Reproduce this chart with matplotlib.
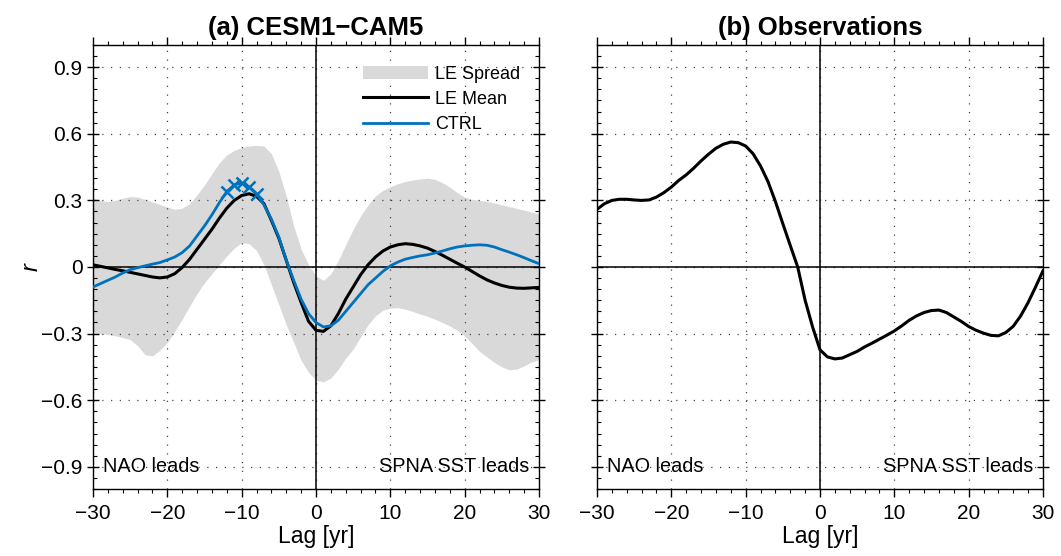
import numpy as np
import matplotlib
matplotlib.use("Agg")
import matplotlib.pyplot as plt
from matplotlib.ticker import MultipleLocator

plt.rcParams['font.family'] = ['Liberation Sans', 'DejaVu Sans']

lags = list(range(-30, 31))

le_mean = [0.01, 0.003, -0.004, -0.011, -0.017, -0.024, -0.031, -0.038, -0.045, -0.049,
           -0.045, -0.03, -0.002, 0.035, 0.08, 0.125, 0.17, 0.22, 0.265, 0.30,
           0.322, 0.33, 0.318, 0.285, 0.21, 0.13, 0.03, -0.07, -0.16, -0.245,
           -0.285, -0.29, -0.265, -0.21, -0.145, -0.09, -0.035, 0.01, 0.045, 0.072,
           0.09, 0.10, 0.105, 0.102, 0.095, 0.085, 0.07, 0.053, 0.035, 0.017,
           0.0, -0.02, -0.04, -0.058, -0.072, -0.083, -0.091, -0.095, -0.096, -0.094,
           -0.092]

ctrl = [-0.09, -0.075, -0.06, -0.045, -0.027, -0.012, -0.003, 0.005, 0.013, 0.02,
        0.032, 0.045, 0.065, 0.095, 0.14, 0.185, 0.235, 0.29, 0.34, 0.37,
        0.378, 0.36, 0.33, 0.28, 0.215, 0.135, 0.03, -0.06, -0.145, -0.21,
        -0.25, -0.27, -0.265, -0.24, -0.20, -0.16, -0.12, -0.08, -0.05, -0.02,
        0.005, 0.022, 0.035, 0.043, 0.05, 0.055, 0.063, 0.072, 0.082, 0.09,
        0.095, 0.098, 0.10, 0.098, 0.09, 0.078, 0.067, 0.055, 0.042, 0.028,
        0.015]

ctrl_sig_lags = [-12, -11, -10, -9, -8]

spread_upper = [0.31, 0.30, 0.294, 0.30, 0.31, 0.317, 0.315, 0.305, 0.293, 0.282,
                0.27, 0.26, 0.265, 0.286, 0.325, 0.37, 0.42, 0.47, 0.505, 0.525,
                0.538, 0.545, 0.548, 0.545, 0.51, 0.43, 0.32, 0.185, 0.08, 0.01,
                -0.04, -0.06, -0.03, 0.03, 0.10, 0.17, 0.23, 0.28, 0.32, 0.345,
                0.362, 0.375, 0.385, 0.392, 0.397, 0.40, 0.395, 0.38, 0.36, 0.335,
                0.315, 0.305, 0.30, 0.295, 0.288, 0.28, 0.272, 0.264, 0.256, 0.247,
                0.24]

spread_lower = [-0.297, -0.30, -0.304, -0.31, -0.318, -0.327, -0.355, -0.395, -0.40, -0.375,
                -0.34, -0.29, -0.235, -0.176, -0.12, -0.07, -0.03, 0.01, 0.05, 0.085,
                0.11, 0.105, 0.074, 0.01, -0.08, -0.17, -0.26, -0.34, -0.42, -0.475,
                -0.51, -0.517, -0.50, -0.46, -0.41, -0.37, -0.315, -0.26, -0.22, -0.195,
                -0.185, -0.183, -0.19, -0.20, -0.212, -0.222, -0.235, -0.25, -0.265, -0.285,
                -0.31, -0.345, -0.38, -0.405, -0.43, -0.45, -0.463, -0.46, -0.445, -0.428,
                -0.418]

obs = [0.26, 0.285, 0.30, 0.305, 0.305, 0.302, 0.30, 0.302, 0.315, 0.335,
       0.36, 0.39, 0.415, 0.445, 0.478, 0.508, 0.535, 0.553, 0.563, 0.56,
       0.545, 0.51, 0.455, 0.385, 0.295, 0.195, 0.097, 0.0, -0.15, -0.27,
       -0.373, -0.405, -0.414, -0.41, -0.395, -0.38, -0.36, -0.343, -0.325, -0.307,
       -0.288, -0.265, -0.24, -0.22, -0.205, -0.196, -0.194, -0.205, -0.225, -0.245,
       -0.268, -0.285, -0.298, -0.308, -0.31, -0.295, -0.267, -0.22, -0.16, -0.09,
       -0.017]

yticks = [-0.9, -0.6, -0.3, 0, 0.3, 0.6, 0.9]
ytick_labels = ['\u22120.9', '\u22120.6', '\u22120.3', '0', '0.3', '0.6', '0.9']
xticks = [-30, -20, -10, 0, 10, 20, 30]
xtick_labels = ['\u221230', '\u221220', '\u221210', '0', '10', '20', '30']

BLUE = '#0072BD'
GRAY = '#d9d9d9'

fig = plt.figure(figsize=(10.61, 5.56), dpi=100)
W, H = 1061, 556
ax1 = fig.add_axes([93 / W, 1 - 489 / H, 446 / W, 444 / H])
ax2 = fig.add_axes([597 / W, 1 - 489 / H, 446 / W, 444 / H])


def style(ax, labels_y):
    ax.set_xlim(-30, 30)
    ax.set_ylim(-1.0, 1.0)
    ax.set_xticks(xticks)
    ax.set_xticklabels(xtick_labels, fontsize=15)
    ax.set_yticks(yticks)
    if labels_y:
        ax.set_yticklabels(ytick_labels, fontsize=15)
    else:
        ax.set_yticklabels([])
    ax.xaxis.set_minor_locator(MultipleLocator(2))
    ax.yaxis.set_minor_locator(MultipleLocator(0.05))
    ax.tick_params(axis='x', which='major', direction='out', length=6, width=1,
                   top=True, bottom=True, pad=5)
    ax.tick_params(axis='x', which='minor', direction='out', length=3, width=0.8,
                   top=True, bottom=True)
    ax.tick_params(axis='y', which='major', direction='inout', length=9, width=1,
                   left=True, right=True, pad=3)
    ax.tick_params(axis='y', which='minor', direction='in', length=3, width=0.8,
                   left=True, right=True)
    ax.grid(True, which='major', color='#444444', linestyle=(0, (1, 6)), linewidth=0.9)
    ax.axhline(0, color='black', lw=1.1, zorder=3)
    ax.axvline(0, color='black', lw=1.1, zorder=3)
    for s in ax.spines.values():
        s.set_linewidth(1.0)
    ax.set_xlabel('Lag [yr]', fontsize=16.5, labelpad=1)
    ax.text(-28.7, -0.9, 'NAO leads', fontsize=14.3, ha='left', va='center', zorder=5)
    ax.text(28.7, -0.9, 'SPNA SST leads', fontsize=14.3, ha='right', va='center', zorder=5)


style(ax1, True)
style(ax2, False)

ax1.fill_between(lags, spread_lower, spread_upper, color=GRAY, lw=0, label='LE Spread', zorder=1)
ax1.plot(lags, le_mean, color='black', lw=2.2, label='LE Mean', zorder=4)
ax1.plot(lags, ctrl, color=BLUE, lw=2.0, label='CTRL', zorder=4)
sig_vals = [ctrl[lags.index(l)] for l in ctrl_sig_lags]
ax1.plot(ctrl_sig_lags, sig_vals, linestyle='none', marker='x', color=BLUE,
         markersize=9, markeredgewidth=1.8, zorder=4)

ax1.set_ylabel('r', fontsize=17, style='italic', labelpad=-1)
ax1.set_title('(a) CESM1\u2212CAM5', fontsize=18.5, fontweight='bold', pad=7)
leg = ax1.legend(loc='upper right', bbox_to_anchor=(0.995, 0.99), frameon=False,
                 fontsize=13, handlelength=3.6, handletextpad=0.4, labelspacing=0.45)

ax2.plot(lags, obs, color='black', lw=2.2, zorder=4)
ax2.set_title('(b) Observations', fontsize=18.5, fontweight='bold', pad=7)

fig.savefig('out.png', dpi=100)
